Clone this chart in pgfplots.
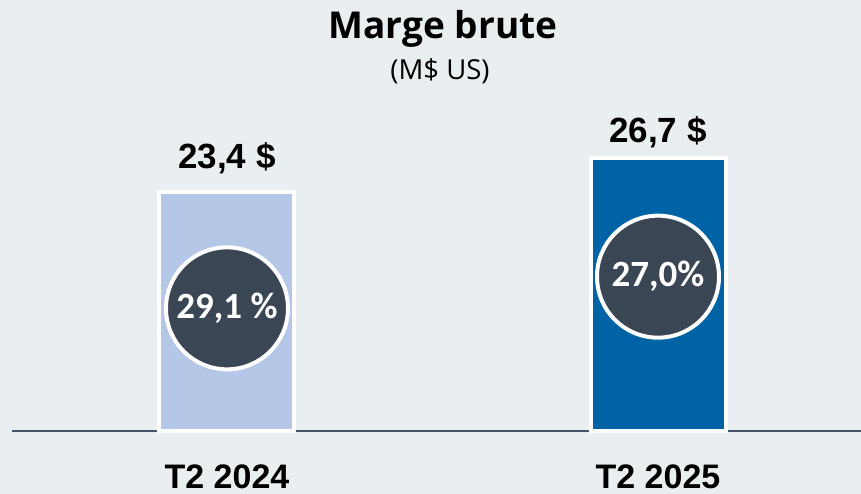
\documentclass[border=0pt]{standalone}
\usepackage{pgfplots}
\pgfplotsset{compat=1.18}
\usepackage{fontspec}
\setmainfont{Liberation Sans}
\newfontfamily\titlefont{Open Sans}
\newfontfamily\circfont{Carlito}
\definecolor{bg}{HTML}{E9EEF1}
\definecolor{barA}{HTML}{B4C7E7}
\definecolor{barB}{HTML}{0063A6}
\definecolor{circ}{HTML}{3B4654}
\definecolor{baseln}{HTML}{44546A}
\begin{document}
\begin{tikzpicture}
\useasboundingbox (0,0) rectangle (861bp,494bp);
\fill[bg] (0,0) rectangle (861bp,494bp);
\node[anchor=base, font=\titlefont\bfseries\fontsize{37bp}{42bp}\selectfont] at (443bp,455bp) {Marge brute};
\node[anchor=base, font=\titlefont\fontsize{27.5bp}{32bp}\selectfont] at (440bp,414bp) {(M\$ US)};
\begin{axis}[
  at={(12bp,63bp)}, anchor=south west,
  scale only axis, width=849bp, height=431bp,
  xmin=-0.4988, xmax=1.4710, ymin=0, ymax=42.17,
  axis line style={draw=none},
  major tick length=0pt,
  ytick=\empty,
  xtick={0,1}, xticklabels={T2 2024, T2 2025},
  xticklabel style={anchor=base, yshift=-57bp, font=\bfseries\fontsize{34bp}{40bp}\selectfont},
  clip=false,
]
\addplot[draw=baseln, line width=1.6bp, forget plot] coordinates {(-0.4988,0) (1.4710,0)};
\addplot[ybar, bar width=135bp, bar shift=0pt, fill=barA, draw=white, line width=4bp,
  nodes near coords={23,4 \$},
  every node near coord/.append style={anchor=base, yshift=23bp, text=black, font=\bfseries\fontsize{35bp}{40bp}\selectfont}]
  coordinates {(0,23.4)};
\addplot[ybar, bar width=135bp, bar shift=0pt, fill=barB, draw=white, line width=4bp,
  nodes near coords={26,7 \$},
  every node near coord/.append style={anchor=base, yshift=16bp, text=black, font=\bfseries\fontsize{35bp}{40bp}\selectfont}]
  coordinates {(1,26.7)};
\addplot[only marks, mark=*, mark size=61bp, mark options={fill=circ, draw=white, line width=4bp},
  nodes near coords={29,1 \%},
  every node near coord/.append style={anchor=center, yshift=0pt, text=white, font=\circfont\bfseries\fontsize{37bp}{40bp}\selectfont}]
  coordinates {(0,12.0)};
\addplot[only marks, mark=*, mark size=61bp, mark options={fill=circ, draw=white, line width=4bp},
  nodes near coords={27,0\%},
  every node near coord/.append style={anchor=center, yshift=0pt, text=white, font=\circfont\bfseries\fontsize{37bp}{40bp}\selectfont}]
  coordinates {(1,15.1)};
\end{axis}
\end{tikzpicture}
\end{document}
